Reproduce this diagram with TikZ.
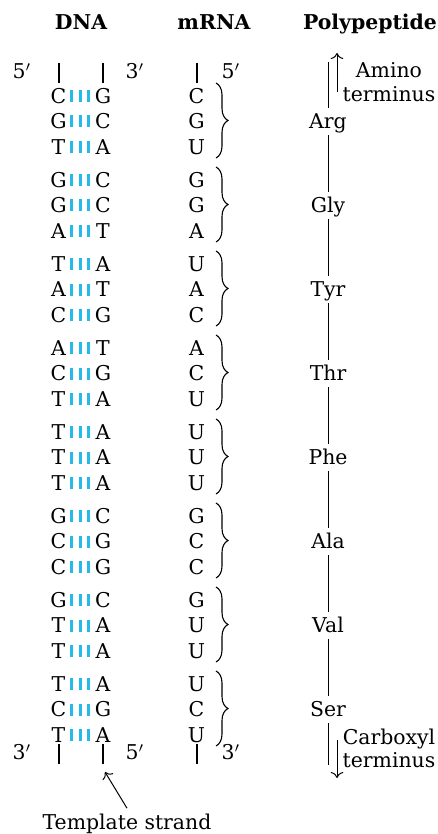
\documentclass[tikz,border=0pt]{standalone}
\usepackage{fontspec}
\setmainfont{DejaVu Serif}
\usetikzlibrary{decorations.pathreplacing, arrows.meta}
\definecolor{bondblue}{RGB}{38,186,234}

\begin{document}
\begin{tikzpicture}[x=0.5pt, y=-0.5pt,
  every node/.style={font=\fontsize{10.2}{12}\selectfont, inner sep=0pt, text height=7.4pt, text depth=0pt},
  heading/.style={font=\fontsize{10.2}{12}\selectfont\bfseries},
  amino/.style={inner ysep=3pt},
  strand/.style={line width=0.9pt},
  hbond/.style={draw=bondblue, line width=6pt, dash pattern=on 1.5pt off 2.75pt},
  codon/.style={decorate, decoration={brace, amplitude=6pt}, line width=0.55pt},
  chain/.style={line width=0.5pt},
  pointer/.style={-{To[length=3pt]}, line width=0.5pt}]
\useasboundingbox (0,0) rectangle (438,834);
% headings
\node (hdna) at (81,22) [heading] {DNA};
\node (hmrna) at (214,22) [heading] {mRNA};
\node (hpep) at (370,22) [heading] {Polypeptide};
% strand ends
\node (e5a) at (22,71) {5$'$};
\node (e3a) at (135,71) {3$'$};
\node (e5m) at (231,71) {5$'$};
\node (e3b) at (22,752) {3$'$};
\node (e5b) at (135,752) {5$'$};
\node (e3m) at (231,752) {3$'$};
\draw [strand] (59,63) -- (59,83);
\draw [strand] (103,63) -- (103,83);
\draw [strand] (197,63) -- (197,83);
\draw [strand] (59,744) -- (59,764);
\draw [strand] (103,744) -- (103,764);
\draw [strand] (197,744) -- (197,764);
% Arg
\node (c1) at (58.5,96) {C};
\node (t1) at (103,96) {G};
\node (m1) at (196.5,96) {C};
\draw [hbond] (70,96) -- (90,96);
\node (c2) at (58.5,121.5) {G};
\node (t2) at (103,121.5) {C};
\node (m2) at (196.5,121.5) {G};
\draw [hbond] (70,121.5) -- (90,121.5);
\node (c3) at (58.5,147) {T};
\node (t3) at (103,147) {A};
\node (m3) at (196.5,147) {U};
\draw [hbond] (70,147) -- (90,147);
\draw [codon] (216,83) -- (216,158);
\node (aa1) at (328,121.5) [amino] {Arg};
% Gly
\node (c4) at (58.5,180) {G};
\node (t4) at (103,180) {C};
\node (m4) at (196.5,180) {G};
\draw [hbond] (70,180) -- (90,180);
\node (c5) at (58.5,205.5) {G};
\node (t5) at (103,205.5) {C};
\node (m5) at (196.5,205.5) {G};
\draw [hbond] (70,205.5) -- (90,205.5);
\node (c6) at (58.5,231) {A};
\node (t6) at (103,231) {T};
\node (m6) at (196.5,231) {A};
\draw [hbond] (70,231) -- (90,231);
\draw [codon] (216,167) -- (216,242);
\node (aa2) at (328,205.5) [amino] {Gly};
% Tyr
\node (c7) at (58.5,264) {T};
\node (t7) at (103,264) {A};
\node (m7) at (196.5,264) {U};
\draw [hbond] (70,264) -- (90,264);
\node (c8) at (58.5,289.5) {A};
\node (t8) at (103,289.5) {T};
\node (m8) at (196.5,289.5) {A};
\draw [hbond] (70,289.5) -- (90,289.5);
\node (c9) at (58.5,315) {C};
\node (t9) at (103,315) {G};
\node (m9) at (196.5,315) {C};
\draw [hbond] (70,315) -- (90,315);
\draw [codon] (216,251) -- (216,326);
\node (aa3) at (328,289.5) [amino] {Tyr};
% Thr
\node (c10) at (58.5,348) {A};
\node (t10) at (103,348) {T};
\node (m10) at (196.5,348) {A};
\draw [hbond] (70,348) -- (90,348);
\node (c11) at (58.5,373.5) {C};
\node (t11) at (103,373.5) {G};
\node (m11) at (196.5,373.5) {C};
\draw [hbond] (70,373.5) -- (90,373.5);
\node (c12) at (58.5,399) {T};
\node (t12) at (103,399) {A};
\node (m12) at (196.5,399) {U};
\draw [hbond] (70,399) -- (90,399);
\draw [codon] (216,335) -- (216,410);
\node (aa4) at (328,373.5) [amino] {Thr};
% Phe
\node (c13) at (58.5,432) {T};
\node (t13) at (103,432) {A};
\node (m13) at (196.5,432) {U};
\draw [hbond] (70,432) -- (90,432);
\node (c14) at (58.5,457.5) {T};
\node (t14) at (103,457.5) {A};
\node (m14) at (196.5,457.5) {U};
\draw [hbond] (70,457.5) -- (90,457.5);
\node (c15) at (58.5,483) {T};
\node (t15) at (103,483) {A};
\node (m15) at (196.5,483) {U};
\draw [hbond] (70,483) -- (90,483);
\draw [codon] (216,419) -- (216,494);
\node (aa5) at (328,457.5) [amino] {Phe};
% Ala
\node (c16) at (58.5,516) {G};
\node (t16) at (103,516) {C};
\node (m16) at (196.5,516) {G};
\draw [hbond] (70,516) -- (90,516);
\node (c17) at (58.5,541.5) {C};
\node (t17) at (103,541.5) {G};
\node (m17) at (196.5,541.5) {C};
\draw [hbond] (70,541.5) -- (90,541.5);
\node (c18) at (58.5,567) {C};
\node (t18) at (103,567) {G};
\node (m18) at (196.5,567) {C};
\draw [hbond] (70,567) -- (90,567);
\draw [codon] (216,503) -- (216,578);
\node (aa6) at (328,541.5) [amino] {Ala};
% Val
\node (c19) at (58.5,600) {G};
\node (t19) at (103,600) {C};
\node (m19) at (196.5,600) {G};
\draw [hbond] (70,600) -- (90,600);
\node (c20) at (58.5,625.5) {T};
\node (t20) at (103,625.5) {A};
\node (m20) at (196.5,625.5) {U};
\draw [hbond] (70,625.5) -- (90,625.5);
\node (c21) at (58.5,651) {T};
\node (t21) at (103,651) {A};
\node (m21) at (196.5,651) {U};
\draw [hbond] (70,651) -- (90,651);
\draw [codon] (216,587) -- (216,662);
\node (aa7) at (328,625.5) [amino] {Val};
% Ser
\node (c22) at (58.5,684) {T};
\node (t22) at (103,684) {A};
\node (m22) at (196.5,684) {U};
\draw [hbond] (70,684) -- (90,684);
\node (c23) at (58.5,709.5) {C};
\node (t23) at (103,709.5) {G};
\node (m23) at (196.5,709.5) {C};
\draw [hbond] (70,709.5) -- (90,709.5);
\node (c24) at (58.5,735) {T};
\node (t24) at (103,735) {A};
\node (m24) at (196.5,735) {U};
\draw [hbond] (70,735) -- (90,735);
\draw [codon] (216,671) -- (216,746);
\node (aa8) at (328,709.5) [amino] {Ser};
% polypeptide chain
\coordinate (nend) at (328,62);
\coordinate (cend) at (328,765);
\draw [chain] (nend) -- (aa1) -- (aa2) -- (aa3) -- (aa4) -- (aa5) -- (aa6) -- (aa7) -- (aa8) -- (cend);
\coordinate (nfrom) at (337,92);
\coordinate (nto) at (337,53);
\draw [pointer] (nfrom) -- (nto);
\node (nlab1) at (389,70) {Amino};
\node (nlab2) at (389,94) {terminus};
\coordinate (cfrom) at (337,740);
\coordinate (cto) at (337,778);
\draw [pointer] (cfrom) -- (cto);
\node (clab1) at (389,737) {Carboxyl};
\node (clab2) at (389,760) {terminus};
% template strand
\node (tmpl) at (127,822) {Template strand};
\coordinate (tmpltip) at (105,772);
\draw [pointer] ([yshift=3pt]tmpl.north) -- (tmpltip);
\end{tikzpicture}
\end{document}
